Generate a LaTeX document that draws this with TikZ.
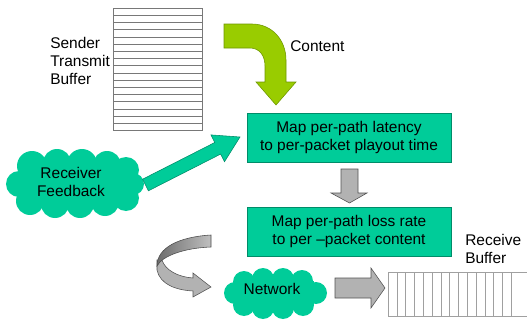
\documentclass[tikz,border=0pt]{standalone}
\usepackage{fontspec}
\setmainfont{Liberation Sans}
\usetikzlibrary{calc}

\definecolor{tealc}{RGB}{0,204,153}
\definecolor{tealdark}{RGB}{0,140,105}
\definecolor{leafc}{RGB}{153,204,0}
\definecolor{leafdark}{RGB}{110,150,0}
\definecolor{bufgray}{RGB}{120,120,120}
\definecolor{arrowgray}{RGB}{178,178,178}

\tikzset{
  txt/.style={font=\fontsize{11}{13}\selectfont, inner sep=0pt},
  mapbox/.style={txt, draw=tealdark, fill=tealc, minimum width=5.1cm, minimum height=1.225cm, align=center},
  grayarrow/.style={fill=arrowgray, draw=gray!65!black, thin},
}

\begin{document}
\begin{tikzpicture}[x=0.025cm, y=-0.025cm]
     \useasboundingbox (0,0) rectangle (529,322);

     % sender transmit buffer
     \node[draw=bufgray, minimum width=2.225cm, minimum height=3.05cm, inner sep=0pt, anchor=north west] (sendbuf) at (113,8) {};
     \foreach \i in {1,...,16}
       \draw[bufgray] ($(sendbuf.north west)!\i/17!(sendbuf.south west)$) -- ($(sendbuf.north east)!\i/17!(sendbuf.south east)$);
     \node[txt, anchor=west, align=left] (sendlbl) at (50,61) {Sender\\Transmit\\Buffer};

     % content arrow
     \draw[fill=leafc, draw=leafdark, thin] (224,24) -- (252,24) .. controls (272,24) and (286,40) .. (286,60) -- (286,82) -- (296,82) -- (276,105) -- (256,82) -- (265,82) -- (265,66) .. controls (265,55) and (259,48) .. (250,48) -- (224,48) -- cycle;
     \node[txt, anchor=west] (content) at (290,46) {Content};

     % the two mapping steps
     \node[mapbox] (latency) at (349,137.5) {Map per-path latency\\to per-packet playout time};
     \node[mapbox] (loss) at (349,231.5) {Map per-path loss rate\\to per --packet content};
     \draw[grayarrow] (341,169) -- (358,169) -- (358,193) -- (367,193) -- (349.5,203) -- (331,193) -- (341,193) -- cycle;

     % feedback cloud, made of puffs
     \fill[tealc] (25,166) rectangle (128,203);
     \foreach \px/\py/\r in {32/166/15, 57/163/14, 82/164/15, 107/165/14, 126/170/13,
                              30/201/14, 55/204/14, 80/204/14, 105/202/14, 126/198/13,
                              19/184/13, 133/184/11}
       \fill[tealc] (\px,\py) circle[radius=\r];
     \node[txt, align=center] (feedback) at (71,182) {Receiver\\Feedback};
     \draw[fill=tealc, draw=tealdark, thin] (142.6,179.2) -- (214.8,142.5) -- (210.9,134.9) -- (240,137) -- (224.5,161.7) -- (220.6,154.1) -- (148.4,190.8) -- cycle;

     % network cloud
     \fill[tealc] (240,281) rectangle (314,306);
     \foreach \px/\py/\r in {244/282/11, 263/279/11, 283/279/11, 302/281/11,
                              244/305/11, 263/308/11, 283/308/11, 303/305/11,
                              235/293/11, 316/293/11}
       \fill[tealc] (\px,\py) circle[radius=\r];
     \node[txt] (network) at (272,289) {Network};

     % turning ribbon
     \draw[grayarrow] (157,260) -- (157,270) .. controls (160,284) and (175,290) .. (193,291) -- (193,297) -- (211,287) -- (193,273) -- (193,278) .. controls (178,277) and (165,270) .. (162,260) -- cycle;
     \shade[draw=gray!60!black, thin, left color=gray!85!black, right color=gray!50] (211,235) .. controls (178,237) and (157,248) .. (157,266) .. controls (162,256) and (184,248) .. (211,247) -- cycle;
     \draw[grayarrow] (335,278) -- (371,278) -- (371,268) -- (385,288) -- (371,308) -- (371,298) -- (335,298) -- cycle;

     % receive buffer
     \coordinate (recvbuf) at (388,272);
     \draw[bufgray!70] (recvbuf) -- ++(139,0) (recvbuf) ++(0,44) -- ++(139,0);
     \foreach \k in {0,...,14}
       \draw[bufgray!70] ($(recvbuf)+(\k*8.8,0)$) -- ++(0,44);
     \node[txt, anchor=west, align=left] (recvlbl) at (465,249) {Receive\\Buffer};
\end{tikzpicture}
\end{document}
